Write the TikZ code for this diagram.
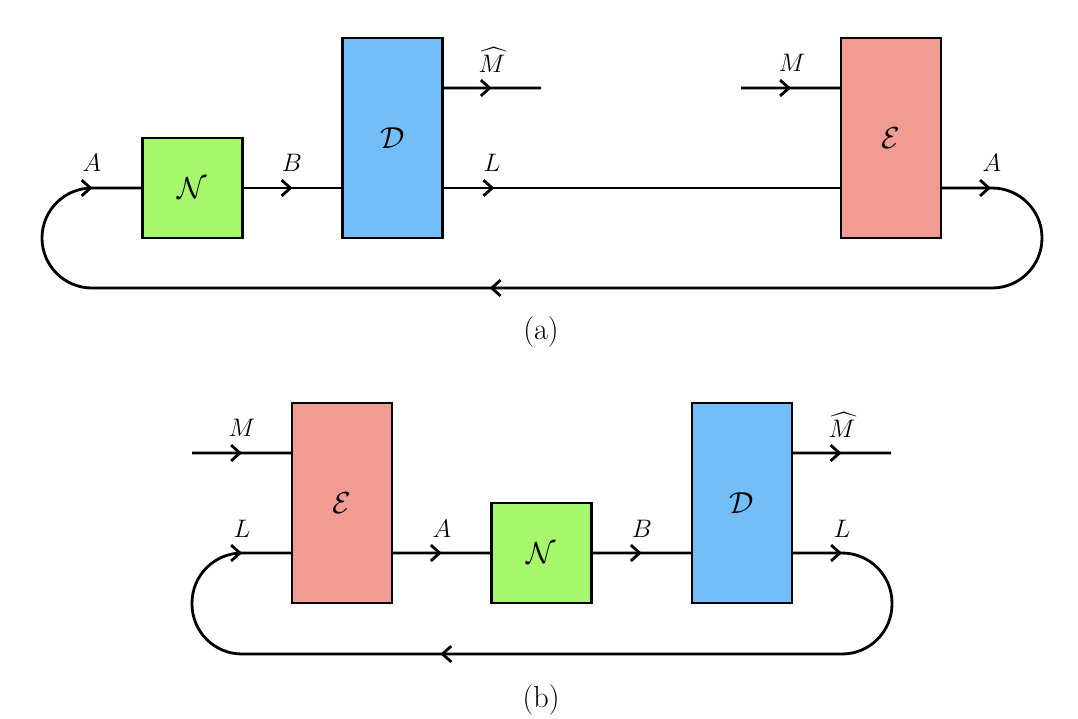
\documentclass[tikz,border=0pt]{standalone}
\usepackage{amsmath,amssymb}
\usetikzlibrary{arrows.meta,decorations.markings}
\definecolor{chgreen}{HTML}{A6F76C}
\definecolor{chblue}{HTML}{73BEF8}
\definecolor{chred}{HTML}{F19C92}
\begin{document}
\begin{tikzpicture}[x=0.02cm,y=-0.02cm,line width=1.6pt,
  box/.style={draw,line width=1.4pt,outer sep=0pt,minimum width=2cm,minimum height=#1,inner sep=0pt,font=\LARGE},
  box/.default=2cm,
  lbl/.style={font=\Large,inner sep=1pt},
  mid/.style={postaction=decorate,decoration={markings,
    mark=at position #1 with {\arrow{Straight Barb[length=5pt,width=9pt,line width=1.6pt]}}}},
  mid/.default=0.5,
  loop/.style={rounded corners=1cm,postaction=decorate,decoration={markings,
    mark=at position 1cm with {\arrow{Straight Barb[length=5pt,width=9pt,line width=1.6pt]}},
    mark=at position #1 with {\arrow{Straight Barb[length=5pt,width=9pt,line width=1.6pt]}},
    mark=at position -1cm with {\arrow{Straight Barb[length=5pt,width=9pt,line width=1.6pt]}}}}
  ]
\useasboundingbox (0,0) rectangle (1078,718);
% (a)
\node[box,fill=chgreen] (Na) at (192.5,188) {$\mathcal{N}$};
\node[box=4cm,fill=chblue] (Da) at (392.5,138) {$\mathcal{D}$};
\node[box=4cm,fill=chred] (Ea) at (891,138) {$\mathcal{E}$};
\coordinate (DaL) at ([yshift=1cm]Da.south east);
\coordinate (DaM) at ([yshift=-1cm]Da.north east);
\coordinate (EaL) at ([yshift=1cm]Ea.south west);
\coordinate (EaM) at ([yshift=-1cm]Ea.north west);
\coordinate (EaA) at ([yshift=1cm]Ea.south east);
\coordinate (MhatA) at (541,88);
\coordinate (MA) at (741,88);
\draw[mid] (Na.east) -- (Da.west |- Na.east);
\draw[mid=0.13] (DaL) -- (EaL);
\draw[mid] (DaM) -- (MhatA);
\draw[mid] (MA) -- (EaM);
\draw[loop=0.54] (EaA) -- (1042,188) -- (1042,288) -- (42,288) -- (42,188) -- (Na.west);
\node[lbl] (la1) at (92,163) {$A$};
\node[lbl] (lb1) at (292,163) {$B$};
\node[lbl] (ll1) at (492,163) {$L$};
\node[lbl] (la2) at (992,163) {$A$};
\node[lbl] (lm1) at (492,60) {$\widehat{M}$};
\node[lbl] (lm2) at (792,63) {$M$};
\node[font=\LARGE] (capa) at (541,332) {(a)};
% (b)
\node[box=4cm,fill=chred] (Eb) at (342,503) {$\mathcal{E}$};
\node[box,fill=chgreen] (Nb) at (541.5,553) {$\mathcal{N}$};
\node[box=4cm,fill=chblue] (Db) at (742,503) {$\mathcal{D}$};
\coordinate (EbA) at ([yshift=1cm]Eb.south east);
\coordinate (EbL) at ([yshift=1cm]Eb.south west);
\coordinate (EbM) at ([yshift=-1cm]Eb.north west);
\coordinate (DbB) at ([yshift=1cm]Db.south west);
\coordinate (DbL) at ([yshift=1cm]Db.south east);
\coordinate (DbM) at ([yshift=-1cm]Db.north east);
\coordinate (MB) at (192,453);
\coordinate (MhatB) at (891,453);
\draw[mid] (EbA) -- (Nb.west);
\draw[mid] (Nb.east) -- (DbB);
\draw[mid] (MB) -- (EbM);
\draw[mid] (DbM) -- (MhatB);
\draw[loop=0.6] (DbL) -- (892,553) -- (892,654) -- (192,654) -- (192,553) -- (EbL);
\node[lbl] (ll2) at (242,529) {$L$};
\node[lbl] (la3) at (442,529) {$A$};
\node[lbl] (lb2) at (642,529) {$B$};
\node[lbl] (ll3) at (842,529) {$L$};
\node[lbl] (lm3) at (242,428) {$M$};
\node[lbl] (lm4) at (842,425) {$\widehat{M}$};
\node[font=\LARGE] (capb) at (541,700) {(b)};
\end{tikzpicture}
\end{document}
